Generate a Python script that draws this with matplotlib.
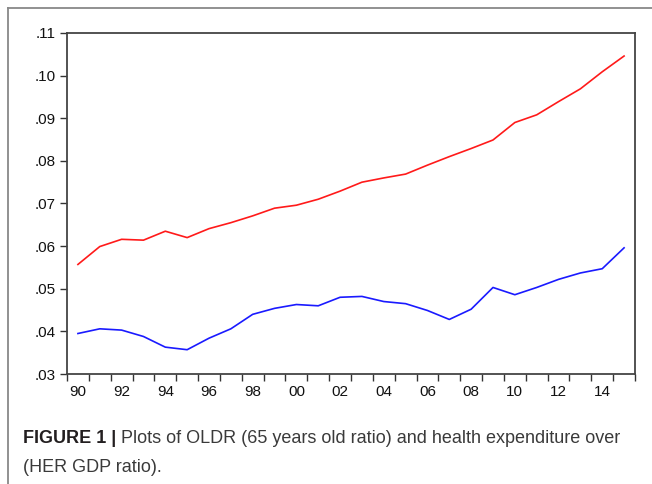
import matplotlib
matplotlib.use("Agg")
import matplotlib.pyplot as plt
from matplotlib.lines import Line2D

years = list(range(1990, 2016))
oldr = [0.0557, 0.0599, 0.0616, 0.0614, 0.0635, 0.0620, 0.0641, 0.0655, 0.0671, 0.0689,
        0.0696, 0.0710, 0.0729, 0.0750, 0.0760, 0.0769, 0.0790, 0.0810, 0.0829, 0.0849,
        0.0890, 0.0908, 0.0939, 0.0969, 0.1009, 0.1046]
her = [0.0395, 0.0406, 0.0403, 0.0388, 0.0363, 0.0357, 0.0384, 0.0406, 0.0440, 0.0454,
       0.0463, 0.0460, 0.0480, 0.0482, 0.0470, 0.0465, 0.0449, 0.0428, 0.0452, 0.0503,
       0.0486, 0.0503, 0.0522, 0.0537, 0.0547, 0.0596]
y_ticks = [0.03, 0.04, 0.05, 0.06, 0.07, 0.08, 0.09, 0.10, 0.11]
y_labels = [".03", ".04", ".05", ".06", ".07", ".08", ".09", ".10", ".11"]
x_label_years = list(range(1990, 2015, 2))
x_labels = ["90", "92", "94", "96", "98", "00", "02", "04", "06", "08", "10", "12", "14"]
caption_bold = "FIGURE 1 |"
caption_rest1 = " Plots of OLDR (65 years old ratio) and health expenditure over"
caption_line2 = "(HER GDP ratio)."

plt.rcParams['font.family'] = ['Liberation Sans', 'DejaVu Sans']

W, H = 652, 484
fig = plt.figure(figsize=(W / 100, H / 100), dpi=100)
ax = fig.add_axes([67 / W, 1 - 374 / H, (635 - 67) / W, (374 - 33) / H])

ax.plot(years, oldr, color="#ff1a1a", lw=1.2)
ax.plot(years, her, color="#1a1aff", lw=1.2)

ax.set_xlim(years[0] - 0.5, years[-1] + 0.5)
ax.set_ylim(y_ticks[0], y_ticks[-1])
ax.set_yticks(y_ticks, y_labels)
ax.set_xticks([y - 0.5 for y in years] + [years[-1] + 0.5])
ax.set_xticklabels([])
ax.set_xticks(x_label_years, x_labels, minor=True)
ax.tick_params(axis="x", which="minor", length=0, pad=8, labelsize=11, labelcolor="#111111")
ax.tick_params(axis="x", which="major", length=5, width=1.0, color="#333333", direction="out")
ax.tick_params(axis="y", length=5, width=1.0, color="#333333", direction="out", pad=3,
               labelsize=11, labelcolor="#111111")
for s in ax.spines.values():
    s.set_color("#444444")
    s.set_linewidth(1.3)

# outer border (top and left visible)
fig.add_artist(Line2D([7.5 / W, 1.0], [1 - 8 / H, 1 - 8 / H], transform=fig.transFigure,
                      color="#888888", lw=1.3))
fig.add_artist(Line2D([7.5 / W, 7.5 / W], [1 - 8 / H, 0.0], transform=fig.transFigure,
                      color="#888888", lw=1.3))

# caption
cap_size = 13
t = fig.text(23 / W, 1 - 443 / H, caption_bold, fontsize=cap_size, fontweight="bold",
             color="#231f20", va="baseline", ha="left")
fig.canvas.draw()
bb = t.get_window_extent()
fig.text(bb.x1 / W, 1 - 443 / H, caption_rest1, fontsize=cap_size, color="#3a3a3a",
         va="baseline", ha="left")
fig.text(23 / W, 1 - 472 / H, caption_line2, fontsize=cap_size, color="#3a3a3a",
         va="baseline", ha="left")

fig.savefig("out.png", dpi=100)
